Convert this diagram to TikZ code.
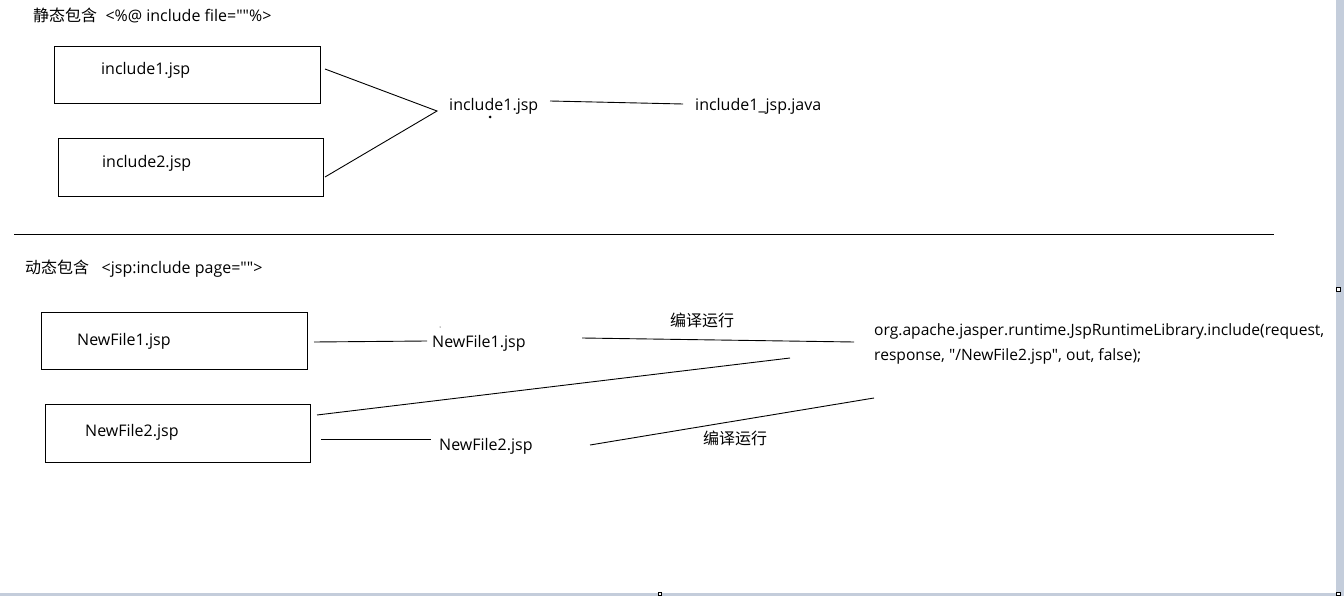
\documentclass[tikz,border=0pt]{standalone}
\usepackage{fontspec}
\setmainfont{Open Sans}[Ligatures=TeXOff]
\newfontfamily\cjk{Noto Sans CJK SC}
\definecolor{edgegrey}{RGB}{196,205,219}
\begin{document}
\begin{tikzpicture}[x=1pt,y=-1pt,
  every node/.style={font=\fontsize{16}{19}\selectfont},
  lbl/.style={anchor=west,inner sep=0pt},
  filebox/.style={draw,line width=0.9pt},
  conn/.style={line width=0.9pt},
  strip/.style={fill=edgegrey,draw=none}]
\useasboundingbox (0,0) rectangle (1344,596);
\fill[white] (0,0) rectangle (1344,596);
% window edges
\fill[strip] (1335.5,0) rectangle (1344,596);
\fill[strip] (0,592.5) rectangle (1344,596);
\draw[line width=0.6pt,fill=white] (1336.5,287.5) rectangle (1340,291);
\draw[line width=0.6pt,fill=white] (658,592.5) rectangle (661,595.5);
\draw[line width=0.6pt,fill=white] (1336.5,592.5) rectangle (1340,595.5);
% static include
\node[lbl] (t1) at (33,15) {{\cjk 静态包含}\ \ <\%@ include file=""\%>};
\draw[filebox] (54,46) rectangle (320,103);
\node[lbl] (a1) at (101,70) {include1.jsp};
\draw[filebox] (58,138) rectangle (323,196);
\node[lbl] (a2) at (102,163) {include2.jsp};
\node[lbl] (m1) at (449,106) {include1.jsp};
\node[lbl] (j1) at (695,106) {include1\_jsp.java};
\coordinate (a1e) at (325,69);
\coordinate (a2e) at (325,177);
\coordinate (mp) at (437,111);
\draw[conn] (a1e) -- (mp) -- (a2e);
\coordinate (m1e) at (550,101);
\coordinate (j1s) at (683,104);
\draw[conn] (m1e) -- (j1s);
\fill (490,117) circle (1.5pt);
% separator
\coordinate (s1) at (14,234);
\coordinate (s2) at (1274,234);
\draw[line width=0.9pt] (s1) -- (s2);
% dynamic include
\node[lbl] (t2) at (25,269) {{\cjk 动态包含}\ \ \ <jsp:include page="">};
\draw[filebox] (41,312) rectangle (307,369);
\node[lbl] (b1) at (77,341) {NewFile1.jsp};
\draw[filebox] (45,404) rectangle (310,462);
\node[lbl] (b2) at (85,432) {NewFile2.jsp};
\node[lbl] (n1) at (432,343) {NewFile1.jsp};
\node[lbl] (n2) at (439,446) {NewFile2.jsp};
\fill (440,327) circle (0.5pt);
\node[lbl,align=left,font=\fontsize{15.6}{19}\selectfont] (org) at (874,344) {org.apache.jasper.runtime.JspRuntimeLibrary.include(request,\\[6pt]response, "/NewFile2.jsp", out, false);};
\node[inner sep=0pt] (c1) at (702,320) {\cjk 编译运行};
\node[inner sep=0pt] (c2) at (735,438) {\cjk 编译运行};
\coordinate (b1e) at (314,342);
\coordinate (n1s) at (427,341);
\draw[conn] (b1e) -- (n1s);
\coordinate (n1e) at (582,338);
\coordinate (orgs) at (854,342);
\draw[conn] (n1e) -- (orgs);
\coordinate (b2e) at (317,415);
\coordinate (orgb) at (790,358);
\draw[conn] (b2e) -- (orgb);
\coordinate (b2f) at (321,439);
\coordinate (n2s) at (431,439);
\draw[conn] (b2f) -- (n2s);
\coordinate (n2e) at (590,445);
\coordinate (orgc) at (874,398);
\draw[conn] (n2e) -- (orgc);
\end{tikzpicture}
\end{document}
